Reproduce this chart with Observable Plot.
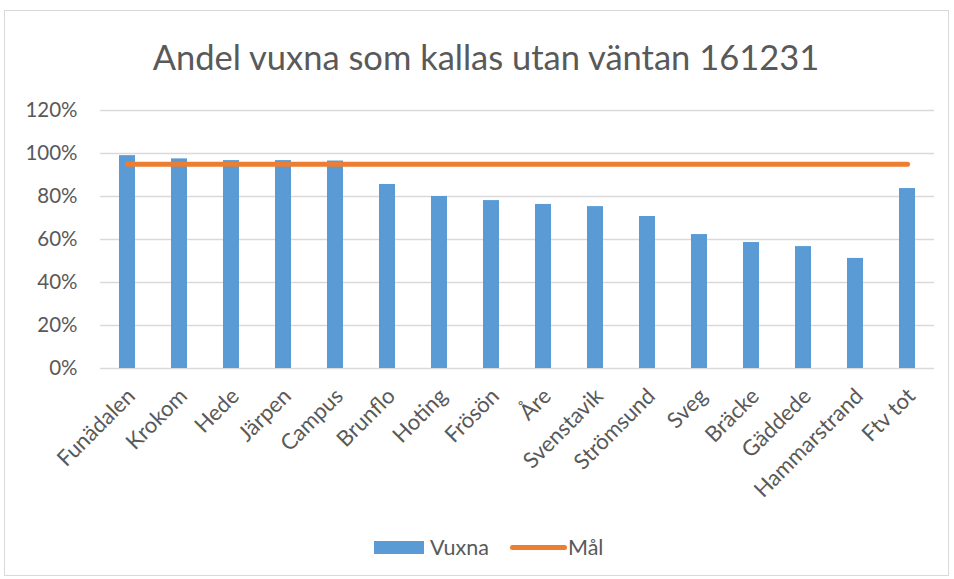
<!DOCTYPE html>
<html>
<head>
<meta charset="utf-8">
<script src="https://cdn.jsdelivr.net/npm/d3@7"></script>
<script src="https://cdn.jsdelivr.net/npm/@observablehq/plot@0.6"></script>
<style>
  body { margin: 0; background: #fff; }
  #frame { position: relative; width: 954px; height: 579px; overflow: hidden; font-family: Lato, "Open Sans", sans-serif; color: #595959; }
  #border { position: absolute; left: 4px; top: 10px; width: 945px; height: 566px; border: 1px solid #d9d9d9; box-sizing: border-box; }
  #title { position: absolute; left: 9px; width: 954px; top: 36px; text-align: center; font-size: 34.5px; line-height: 42px; color: #595959; }
  #chart { position: absolute; left: 0; top: 95px; }
  #legend { position: absolute; top: 533px; left: 0; width: 954px; height: 26px; }
  .sw-bar { position: absolute; left: 374px; top: 8px; width: 50px; height: 13px; background: #5B9BD5; }
  .lab1 { position: absolute; left: 430px; top: 0px; font-size: 21.5px; line-height: 28px; }
  .sw-line { position: absolute; left: 510px; top: 12px; width: 57px; height: 5px; border-radius: 3px; background: #ED7D31; }
  .lab2 { position: absolute; left: 568px; top: 0px; font-size: 21.5px; line-height: 28px; }
</style>
</head>
<body>
<div id="frame">
  <div id="border"></div>
  <div id="title">Andel vuxna som kallas utan väntan 161231</div>
  <div id="chart"></div>
  <div id="legend">
    <div class="sw-bar"></div><div class="lab1">Vuxna</div>
    <div class="sw-line"></div><div class="lab2">Mål</div>
  </div>
</div>
<script>
const categories = ["Funädalen","Krokom","Hede","Järpen","Campus","Brunflo","Hoting","Frösön","Åre","Svenstavik","Strömsund","Sveg","Bräcke","Gäddede","Hammarstrand","Ftv tot"];
const vuxna = [0.99, 0.975, 0.967, 0.967, 0.965, 0.856, 0.80, 0.781, 0.763, 0.753, 0.707, 0.623, 0.586, 0.567, 0.512, 0.837];
const mal = [0.95, 0.95, 0.95, 0.95, 0.95, 0.95, 0.95, 0.95, 0.95, 0.95, 0.95, 0.95, 0.95, 0.95, 0.95, 0.95];
const yTicks = [0, 0.2, 0.4, 0.6, 0.8, 1.0, 1.2];

const rows = categories.map((c, i) => ({cat: c, vuxna: vuxna[i], mal: mal[i]}));

const chart = Plot.plot({
  width: 954,
  height: 432,
  marginTop: 15,
  marginBottom: 159,
  marginLeft: 100,
  marginRight: 20,
  style: {fontFamily: "Lato, 'Open Sans', sans-serif", fontSize: "20px", color: "#595959", background: "transparent"},
  x: {domain: categories, paddingInner: 0.69, paddingOuter: 0.345, label: null},
  y: {domain: [0, 1.2], label: null},
  marks: [
    Plot.gridY(yTicks, {stroke: "#d9d9d9", strokeOpacity: 1, strokeWidth: 1.3}),
    Plot.barY(rows, {x: "cat", y: "vuxna", fill: "#5B9BD5"}),
    Plot.lineY(rows, {x: "cat", y: "mal", stroke: "#ED7D31", strokeWidth: 5, strokeLinecap: "round"}),
    Plot.axisY({ticks: yTicks, tickFormat: d3.format(".0%"), tickSize: 0, tickPadding: 23, fontSize: 20.5, fill: "#595959"}),
    Plot.axisX({tickRotate: -45, tickSize: 0, tickPadding: 24, dx: 4, fontSize: 22, fill: "#595959"})
  ]
});
document.getElementById("chart").appendChild(chart);
</script>
</body>
</html>
